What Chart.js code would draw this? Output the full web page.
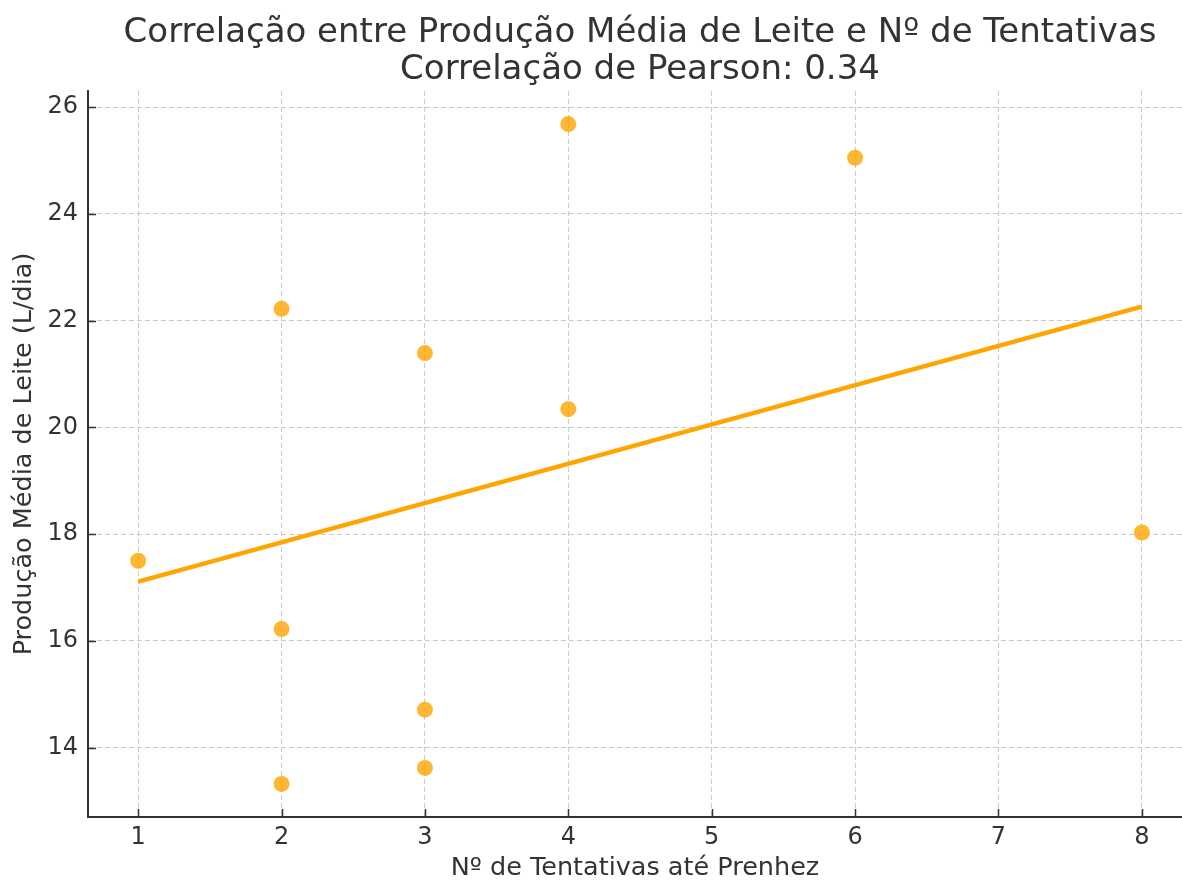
<!DOCTYPE html>
<html>
<head>
<meta charset="utf-8">
<script src="https://cdn.jsdelivr.net/npm/chart.js@4.4.0/dist/chart.umd.min.js"></script>
<style>
  html, body { margin: 0; padding: 0; overflow: hidden; background: #fff; }
  canvas { display: block; }
</style>
</head>
<body>
<canvas id="c" width="1182" height="881"></canvas>
<script>
// Data
const tentativas = [1, 2, 2, 2, 3, 3, 3, 4, 4, 6, 8];
const producao = [17.5, 22.22, 16.22, 13.32, 21.39, 14.71, 13.62, 25.68, 20.34, 25.05, 18.03];
const trendX = [1, 8];
const trendY = [17.11, 22.26];
const xTicks = [1, 2, 3, 4, 5, 6, 7, 8];
const yTicks = [14, 16, 18, 20, 22, 24, 26];
const titleLines = ['Correlação entre Produção Média de Leite e Nº de Tentativas', 'Correlação de Pearson: 0.34'];
const xLabel = 'Nº de Tentativas até Prenhez';
const yLabel = 'Produção Média de Leite (L/dia)';

const FONT = "'DejaVu Sans', sans-serif";
const TEXT = '#333333';

const titlePlugin = {
  id: 'mplTitle',
  afterDraw(chart) {
    const ctx = chart.ctx;
    const a = chart.chartArea;
    const xs = chart.scales.x;
    // centre over the full axes extent (matplotlib axes run to x = 8.35)
    const cx = (a.left + xs.getPixelForValue(8.35)) / 2;
    ctx.save();
    ctx.fillStyle = TEXT;
    ctx.font = "34px " + FONT;
    ctx.textAlign = 'center';
    ctx.textBaseline = 'alphabetic';
    ctx.fillText(titleLines[0], cx, 42);
    ctx.fillText(titleLines[1], cx, 79);
    ctx.restore();
  }
};

const inTicks = {
  id: 'inTicks',
  afterDraw(chart) {
    const ctx = chart.ctx;
    const a = chart.chartArea;
    const xs = chart.scales.x, ys = chart.scales.y;
    ctx.save();
    ctx.strokeStyle = TEXT;
    ctx.lineWidth = 1.5;
    ctx.beginPath();
    xs.ticks.forEach(t => {
      const px = Math.round(xs.getPixelForValue(t.value)) + 0.5;
      ctx.moveTo(px, a.bottom);
      ctx.lineTo(px, a.bottom - 8);
    });
    ys.ticks.forEach(t => {
      const py = Math.round(ys.getPixelForValue(t.value)) + 0.5;
      ctx.moveTo(a.left, py);
      ctx.lineTo(a.left + 8, py);
    });
    ctx.stroke();
    ctx.restore();
  }
};

new Chart(document.getElementById('c'), {
  type: 'scatter',
  data: {
    datasets: [
      {
        type: 'line',
        data: trendX.map((x, i) => ({ x, y: trendY[i] })),
        borderColor: '#FFA500',
        borderWidth: 4.5,
        pointRadius: 0,
        fill: false,
        tension: 0
      },
      {
        data: tentativas.map((x, i) => ({ x, y: producao[i] })),
        backgroundColor: 'rgba(255,165,0,0.8)',
        borderWidth: 0,
        pointRadius: 8,
        pointHoverRadius: 8
      }
    ]
  },
  options: {
    responsive: false,
    animation: false,
    events: [],
    layout: { autoPadding: false, padding: { top: 91, right: 0, bottom: 0, left: 0 } },
    plugins: { legend: { display: false }, tooltip: { enabled: false }, title: { display: false } },
    scales: {
      x: {
        type: 'linear',
        min: 0.65,
        max: 8.28,
        afterBuildTicks(s) { s.ticks = xTicks.map(v => ({ value: v })); },
        afterFit(s) { s.height = 64; s.paddingLeft = 0; s.paddingRight = 0; },
        grid: { color: 'rgba(180,180,180,0.7)', lineWidth: 1, drawTicks: false },
        border: { display: true, color: TEXT, width: 2, dash: [5, 3] },
        ticks: { color: TEXT, font: { family: FONT, size: 24 }, padding: 6, maxRotation: 0 },
        title: { display: true, text: xLabel, color: TEXT, font: { family: FONT, size: 25.5, lineHeight: 1 }, padding: { top: 0, bottom: 0 } }
      },
      y: {
        type: 'linear',
        min: 12.70,
        max: 26.30,
        afterBuildTicks(s) { s.ticks = yTicks.map(v => ({ value: v })); },
        afterFit(s) { s.width = 88; s.paddingTop = 0; s.paddingBottom = 0; },
        grid: { color: 'rgba(180,180,180,0.7)', lineWidth: 1, drawTicks: false },
        border: { display: true, color: TEXT, width: 2, dash: [5, 3] },
        ticks: { color: TEXT, font: { family: FONT, size: 24 }, padding: 10 },
        title: { display: true, text: yLabel, color: TEXT, font: { family: FONT, size: 25.5, lineHeight: 1 }, padding: { top: 12, bottom: 0 } }
      }
    }
  },
  plugins: [titlePlugin, inTicks]
});
</script>
</body>
</html>
